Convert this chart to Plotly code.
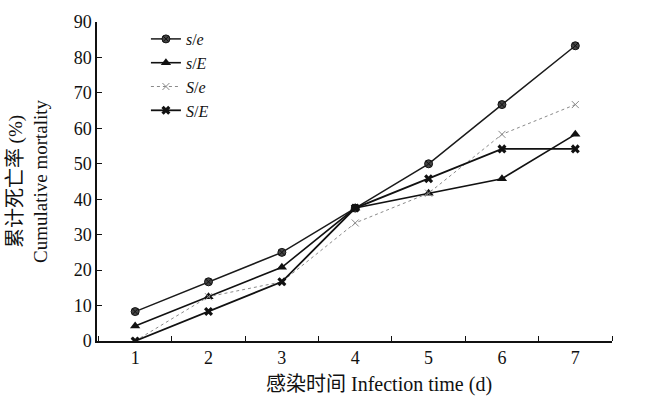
import plotly.graph_objects as go

days = [1, 2, 3, 4, 5, 6, 7]
x_tick_labels = ["1", "2", "3", "4", "5", "6", "7"]
y_tick_vals = [0, 10, 20, 30, 40, 50, 60, 70, 80, 90]

s_e = [8.3, 16.7, 25.0, 37.5, 50.0, 66.7, 83.3]
s_E = [4.2, 12.5, 20.8, 37.5, 41.7, 45.8, 58.3]
S_e = [0.0, 12.5, 16.7, 33.3, 41.7, 58.3, 66.7]
S_E = [0.0, 8.3, 16.7, 37.5, 45.8, 54.2, 54.2]

FONT = "Liberation Serif, Times New Roman, Noto Sans CJK SC, serif"

fig = go.Figure()
fig.add_trace(go.Scatter(
    x=days, y=s_e, name="<i>s</i>/<i>e</i>", mode="lines+markers",
    line=dict(color="#1a1a1a", width=1.5),
    marker=dict(symbol="circle-x", size=8, color="#444444",
                line=dict(color="#111111", width=1))))
fig.add_trace(go.Scatter(
    x=days, y=s_E, name="<i>s</i>/<i>E</i>", mode="lines+markers",
    line=dict(color="#111111", width=1.6),
    marker=dict(symbol="triangle-up", size=9, color="#111111")))
fig.add_trace(go.Scatter(
    x=days, y=S_e, name="<i>S</i>/<i>e</i>", mode="lines+markers",
    line=dict(color="#8a8a8a", width=1, dash="dot"),
    marker=dict(symbol="x-thin-open", size=7, color="#888888",
                line=dict(color="#888888", width=1))))
fig.add_trace(go.Scatter(
    x=days, y=S_E, name="<i>S</i>/<i>E</i>", mode="lines+markers",
    line=dict(color="#111111", width=1.8),
    marker=dict(symbol="x", size=8, color="#111111")))

fig.update_layout(
    width=654, height=399,
    margin=dict(l=97, r=42, t=17, b=58),
    paper_bgcolor="white", plot_bgcolor="white",
    font=dict(family=FONT, size=16, color="#111111"),
    showlegend=True,
    legend=dict(x=0.095, y=1.0, xanchor="left", yanchor="top",
                bgcolor="rgba(0,0,0,0)", font=dict(size=16, family=FONT),
                tracegroupgap=0, itemwidth=30),
    annotations=[dict(
        text='<span style="font-size:20px">感染时间</span> Infection time (d)',
        xref="paper", yref="paper", x=0.548, y=0, xanchor="center", yanchor="top",
        yshift=-30, showarrow=False, font=dict(size=20, family=FONT, color="#111111"))],
)
fig.update_xaxes(
    range=[0.48, 7.5], tickmode="array", tickvals=days, ticktext=x_tick_labels,
    ticks="", showgrid=False, zeroline=False,
    showline=True, linecolor="#111111", linewidth=1.5,
    minor=dict(ticks="inside", tick0=0.5, dtick=1, ticklen=5,
               tickcolor="#111111", tickwidth=1.2, showgrid=False),
    tickfont=dict(size=18, family=FONT),
)
fig.update_yaxes(
    range=[0, 90], tickmode="array", tickvals=y_tick_vals,
    ticks="inside", ticklen=5, tickcolor="#111111", tickwidth=1.2,
    showgrid=False, zeroline=False,
    showline=True, linecolor="#111111", linewidth=1.5,
    tickfont=dict(size=18, family=FONT),
    title=dict(text='<span style="font-size:20px">累计死亡率</span> (%)<br>Cumulative mortality',
               font=dict(size=19, family=FONT), standoff=21),
)

fig.write_html("out.html", config={"displayModeBar": False},
               post_script="document.body.style.margin='0';")
